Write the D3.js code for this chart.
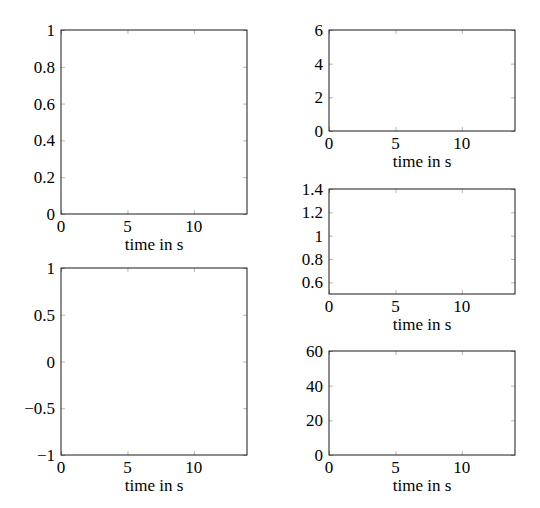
<!DOCTYPE html>
<html><head><meta charset="utf-8">
<script src="https://cdn.jsdelivr.net/npm/d3@7"></script>
<style>body{margin:0;background:#fff}text{font-family:"Liberation Serif","DejaVu Serif",serif;font-size:17px}</style>
</head><body>
<svg id="fig" width="540" height="508"></svg>
<script>
var xDomain = [0, 14];
var xTicks = [0, 5, 10];
var panels = [
  {name: "a", box: [61, 30, 247, 214], yDomain: [0, 1], yTicks: [0, 0.2, 0.4, 0.6, 0.8, 1]},
  {name: "b", box: [61, 268, 247, 455], yDomain: [-1, 1], yTicks: [-1, -0.5, 0, 0.5, 1]},
  {name: "c", box: [329, 30, 515, 131], yDomain: [0, 6], yTicks: [0, 2, 4, 6]},
  {name: "d", box: [329, 189, 515, 294], yDomain: [0.5, 1.4], yTicks: [0.6, 0.8, 1, 1.2, 1.4]},
  {name: "e", box: [329, 351, 515, 455], yDomain: [0, 60], yTicks: [0, 20, 40, 60]}
];
var xLabel = "time in s";
var fmt = function(d){ return String(d).replace("-", "\u2212"); };

var svg = d3.select("#fig");
panels.forEach(function(p) {
  var b = p.box;
  var x = d3.scaleLinear().domain(xDomain).range([b[0], b[2]]);
  var y = d3.scaleLinear().domain(p.yDomain).range([b[3], b[1]]);
  var g = svg.append("g");

  // inward ticks on all four sides
  g.append("g").attr("transform", "translate(0," + b[3] + ")")
    .call(d3.axisTop(x).tickValues(xTicks).tickSize(4).tickFormat(""));
  g.append("g").attr("transform", "translate(0," + b[1] + ")")
    .call(d3.axisBottom(x).tickValues(xTicks).tickSize(4).tickFormat(""));
  g.append("g").attr("transform", "translate(" + b[0] + ",0)")
    .call(d3.axisRight(y).tickValues(p.yTicks).tickSize(4).tickFormat(""));
  g.append("g").attr("transform", "translate(" + b[2] + ",0)")
    .call(d3.axisLeft(y).tickValues(p.yTicks).tickSize(4).tickFormat(""));
  g.selectAll(".domain").remove();
  g.selectAll(".tick line").attr("stroke", "#888").attr("stroke-width", 0.6);

  g.selectAll(".xl").data(xTicks).enter().append("text")
    .attr("x", function(d){ return x(d); }).attr("y", b[3] + 18)
    .attr("text-anchor", "middle").text(fmt);
  g.selectAll(".yl").data(p.yTicks).enter().append("text")
    .attr("x", b[0] - 6).attr("y", function(d){ return y(d) + 6; })
    .attr("text-anchor", "end").text(fmt);
  g.append("text").attr("x", (b[0] + b[2]) / 2).attr("y", b[3] + 36)
    .attr("text-anchor", "middle").text(xLabel);

  g.append("rect").attr("x", b[0]).attr("y", b[1])
    .attr("width", b[2] - b[0]).attr("height", b[3] - b[1])
    .attr("fill", "none").attr("stroke", "#000").attr("stroke-width", 0.9);
});
</script>
</body></html>
